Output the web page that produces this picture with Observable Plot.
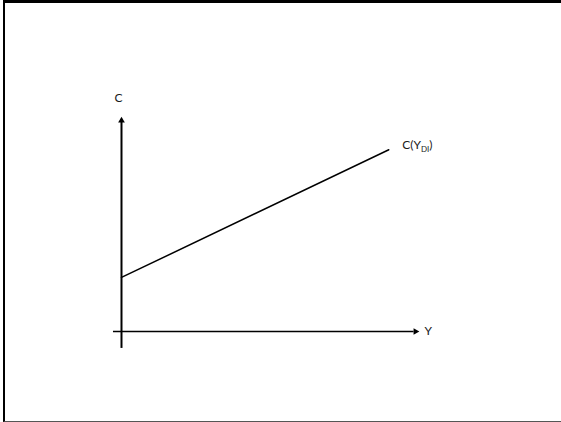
<!DOCTYPE html>
<html>
<head>
<meta charset="utf-8">
<script src="https://cdn.jsdelivr.net/npm/d3@7"></script>
<script src="https://cdn.jsdelivr.net/npm/@observablehq/plot@0.6"></script>
<style>
  html, body { margin: 0; padding: 0; background: #fff; }
  #wrap { position: relative; width: 561px; height: 422px; overflow: hidden; }
  #frame { position: absolute; left: 3px; top: 0px; width: 600px; height: 418px;
           border-left: 2px solid #000; border-top: 3px solid #000; border-bottom: 1px solid #555; }
  #chart { position: absolute; left: 0; top: 0; }
</style>
</head>
<body>
<div id="wrap"><div id="chart"></div><div id="frame"></div></div>
<script>
// Data (abstract units)
const incomeLine = [0, 9];            // Y (disposable income)
const consumptionLine = [1.82, 6.12]; // C
const xAxisExtent = [-0.27, 10];      // horizontal axis from / arrow tip
const yAxisExtent = [-0.57, 7.2];     // vertical axis from / arrow tip
const axisLabels = [
  {x: -0.1, y: 7.85, text: "C", anchor: "middle"},
  {x: 10.2, y: 0, text: "Y", anchor: "start"},
  {x: 9.45, y: 6.28, text: "C(Y_DI)", anchor: "start"}
];

const lineData = incomeLine.map((x, i) => ({x, y: consumptionLine[i]}));

const chart = Plot.plot({
  width: 561,
  height: 422,
  margin: 0,
  x: {domain: [-4.074, 14.815], axis: null},
  y: {domain: [-3.064, 11.145], axis: null},
  marks: [
    Plot.ruleY([0], {x1: xAxisExtent[0], x2: xAxisExtent[1] - 0.15, stroke: "#000", strokeWidth: 1.6}),
    Plot.ruleX([0], {y1: yAxisExtent[0], y2: yAxisExtent[1] - 0.15, stroke: "#000", strokeWidth: 2}),
    Plot.dot([{x: xAxisExtent[1] - 0.1, y: 0}], {x: "x", y: "y", symbol: "triangle2", r: 3.2, fill: "#000", stroke: "none", rotate: 90}),
    Plot.dot([{x: 0, y: yAxisExtent[1] - 0.1}], {x: "x", y: "y", symbol: "triangle2", r: 3.2, fill: "#000", stroke: "none", rotate: 0}),
    Plot.line(lineData, {x: "x", y: "y", stroke: "#000", strokeWidth: 1.5}),
    Plot.text(axisLabels.filter(d => d.anchor === "middle"), {x: "x", y: "y", text: "text", textAnchor: "middle", fontSize: 12, fill: "#1a1a1a"}),
    Plot.text(axisLabels.filter(d => d.anchor === "start"), {x: "x", y: "y", text: "text", textAnchor: "start", fontSize: 12, fill: "#1a1a1a"})
  ],
  style: {fontFamily: "Lato, 'Open Sans', sans-serif", background: "transparent"}
});

// Render subscript for C(Y_DI)
d3.select(chart).selectAll("text").each(function() {
  const t = d3.select(this);
  if (t.text() === "C(Y_DI)") {
    t.text(null);
    t.append("tspan").text("C(Y");
    t.append("tspan").attr("font-size", 8).attr("dy", 3).text("DI");
    t.append("tspan").attr("dy", -3).text(")");
  }
});

document.getElementById("chart").appendChild(chart);
</script>
</body>
</html>
